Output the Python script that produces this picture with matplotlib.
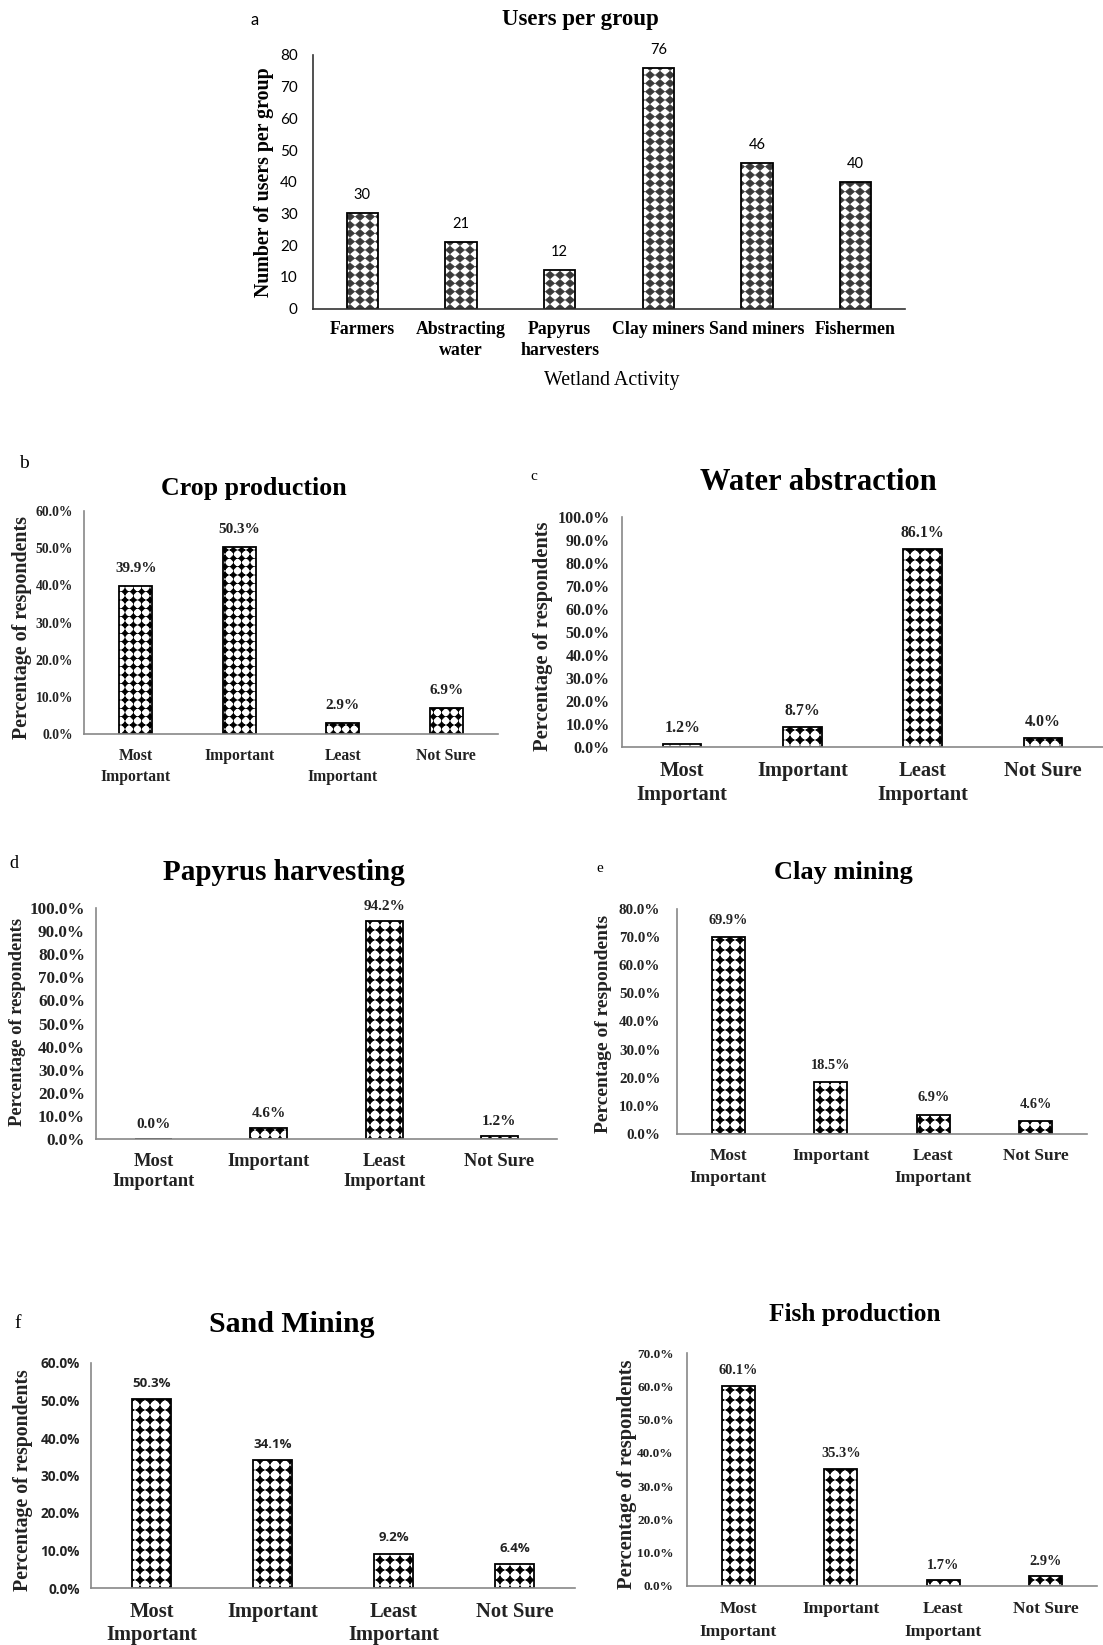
"""Wetland user groups and perceived importance of each activity (panels a-g)."""
import numpy as np
import matplotlib
matplotlib.use("Agg")
import matplotlib.pyplot as plt
from matplotlib import hatch as mhatch
from matplotlib.path import Path

W, H, DPI = 1103, 1645, 100

# ---- data -------------------------------------------------------------
groups = ["Farmers", "Abstracting\nwater", "Papyrus\nharvesters",
          "Clay miners", "Sand miners", "Fishermen"]
users = [30, 21, 12, 76, 46, 40]

levels = ["Most\nImportant", "Important", "Least\nImportant", "Not Sure"]
crop = [39.9, 50.3, 2.9, 6.9]
water = [1.2, 8.7, 86.1, 4.0]
papyrus = [0.0, 4.6, 94.2, 1.2]
clay = [69.9, 18.5, 6.9, 4.6]
sand = [50.3, 34.1, 9.2, 6.4]
fish = [60.1, 35.3, 1.7, 2.9]

SERIF = ["Liberation Serif", "DejaVu Serif"]
SANS = ["Lato", "DejaVu Sans"]
SANS_B = ["Open Sans", "DejaVu Sans"]


# ---- custom hatches (Excel-like fills) ---------------------------------
def diamond(cx, cy, w, h):
    v = [(cx, cy + h), (cx - w, cy), (cx, cy - h), (cx + w, cy), (cx, cy + h)]
    c = [Path.MOVETO, Path.LINETO, Path.LINETO, Path.LINETO, Path.CLOSEPOLY]
    return v, c


class _Pattern(mhatch.HatchPatternBase):
    char = None

    def __init__(self, hatch, density):
        if hatch and self.char in hatch:
            self.verts, self.codes = self.build()
        else:
            self.verts, self.codes = np.empty((0, 2)), np.empty(0, Path.code_type)
        self.num_vertices = len(self.verts)

    def set_vertices_and_codes(self, vertices, codes):
        vertices[:] = self.verts
        codes[:] = self.codes


class SolidDiamond(_Pattern):
    """diamonds touching at their tips (panel a)"""
    char = "*"

    def build(self):
        nx, ny = 10, 12
        w, h = 0.5 / nx * 0.9, 0.5 / ny * 0.9
        v, c = [], []
        for j in range(-1, ny + 2):
            for i in range(-1, nx + 2):
                vv, cc = diamond(i / nx, j / ny, w, h)
                v += vv
                c += cc
        return np.array(v, float), np.array(c, Path.code_type)


class DotGrid(_Pattern):
    """black dots on a thin grid (panels b-g)"""
    n = 10

    def build(self):
        n = self.n
        v, c = [], []
        for k in range(n + 1):
            t = k / n
            v += [(0, t), (1, t), (t, 0), (t, 1)]
            c += [Path.MOVETO, Path.LINETO, Path.MOVETO, Path.LINETO]
        r = 0.36 / n
        for i in range(-1, n + 2):
            for j in range(-1, n + 2):
                vv, cc = diamond(i / n, j / n, r, r)
                v += vv
                c += cc
        return np.array(v, float), np.array(c, Path.code_type)


class DotGridFine(DotGrid):
    char = "O"
    n = 12


class DotGridWide(DotGrid):
    char = "o"
    n = 10


mhatch._hatch_types = [SolidDiamond, DotGridFine, DotGridWide]
plt.rcParams["hatch.linewidth"] = 0.5


def box(l, r, t, b):
    return [l / W, 1 - b / H, (r - l) / W, (b - t) / H]


def ftext(x, y, s, **kw):
    fig.text(x / W, 1 - y / H, s, ha="center", va="center", **kw)


fig = plt.figure(figsize=(W / DPI, H / DPI), dpi=DPI)

# ---- panel a ----------------------------------------------------------
ax = fig.add_axes(box(313, 905, 55, 308.5))
xa = np.arange(len(groups))
ax.bar(xa, users, 0.32, color="white", edgecolor="#3a3a3a", hatch="*", linewidth=0)
ax.bar(xa, users, 0.32, fill=False, edgecolor="black", linewidth=1.3)
for x, v in zip(xa, users):
    ax.annotate(f"{v}", (x, v), xytext=(0, 13), textcoords="offset points",
                ha="center", va="center", fontsize=10.5, family=SANS)
ax.set_xlim(-0.5, len(groups) - 0.5)
ax.set_ylim(0, 80)
ax.set_yticks(range(0, 81, 10))
ax.set_xticks(xa)
ax.set_xticklabels(groups, family=SERIF, weight="bold", fontsize=12.8, linespacing=1.3)
for t in ax.get_yticklabels():
    t.set_family(SANS)
    t.set_fontsize(11)
ax.tick_params(axis="y", length=0, pad=11)
ax.tick_params(axis="x", length=0, pad=9)
for s in ("top", "right"):
    ax.spines[s].set_visible(False)
for s in ("left", "bottom"):
    ax.spines[s].set_color("#333333")
    ax.spines[s].set_linewidth(1.2)
ftext(580, 19, "Users per group", family=SERIF, weight="bold", fontsize=16.5)
ftext(255, 20, "a", family=SANS, fontsize=12)
ftext(264, 182, "Number of users per group", family=SERIF, weight="bold",
      fontsize=14.3, rotation=90)
ftext(612, 380, "Wetland Activity", family=SERIF, fontsize=14.4)

# ---- panels b-g ---------------------------------------------------------
# tick=(size, pad pt, family)  data=(size, offset pt, family)  cat=(size, pad pt, linespacing)
panels = [
    dict(vals=crop, ymax=60, rect=(84, 498, 511, 734), hatch="O",
         title=("Crop production", 254, 488, 18.6), letter=("b", 24, 464, 14),
         ylab=(22, 627, 14.4), tick=(9.8, 8, SERIF), data=(11, 12.5, SERIF),
         cat=(11.3, 10, 1.4)),
    dict(vals=water, ymax=100, rect=(622, 1103, 517, 747), hatch="o",
         title=("Water abstraction", 818, 482, 22), letter=("c", 534, 477, 11),
         ylab=(543, 636, 14.8), tick=(11.5, 9, SERIF), data=(11.4, 11.5, SERIF),
         cat=(14.8, 10, 1.26)),
    dict(vals=papyrus, ymax=100, rect=(96, 557, 908, 1139), hatch="o",
         title=("Papyrus harvesting", 284, 872, 21), letter=("d", 14, 863, 13),
         ylab=(18, 1022, 13.4), tick=(12.3, 8, SERIF), data=(11, 10.5, SERIF),
         cat=(13.3, 10, 1.24)),
    dict(vals=clay, ymax=80, rect=(677, 1087, 909, 1134), hatch="o",
         title=("Clay mining", 843, 872, 19), letter=("e", 600, 868, 11),
         ylab=(604, 1024, 14.0), tick=(10.8, 12, SERIF), data=(10.4, 12, SERIF),
         cat=(12.5, 10, 1.5)),
    dict(vals=sand, ymax=60, rect=(91, 575, 1363, 1588), hatch="o",
         title=("Sand Mining", 292, 1325, 21.5), letter=("f", 18, 1323, 14),
         ylab=(23, 1480, 14.3), tick=(9.8, 8, SANS_B), data=(9.5, 11.3, SANS_B),
         cat=(14.8, 10, 1.22)),
    dict(vals=fish, ymax=70, rect=(687, 1097, 1353, 1586), hatch="o",
         title=("Fish production", 855, 1315, 18.2), letter=None,
         ylab=(627, 1474, 14.8), tick=(9.5, 9.5, SERIF), data=(10.4, 11, SERIF),
         cat=(12.5, 10.5, 1.6)),
]

xb = np.arange(len(levels))
for p in panels:
    ax = fig.add_axes(box(*p["rect"]))
    ax.bar(xb, p["vals"], 0.32, color="white", edgecolor="black",
           hatch=p["hatch"], linewidth=1.3)
    dsize, doff, dfam = p["data"]
    for x, v in zip(xb, p["vals"]):
        ax.annotate(f"{v:.1f}%", (x, v), xytext=(0, doff), textcoords="offset points",
                    ha="center", va="center", fontsize=dsize, family=dfam,
                    weight="bold", color="#222222")
    ax.set_xlim(-0.5, len(levels) - 0.5)
    ax.set_ylim(0, p["ymax"])
    yt = np.arange(0, p["ymax"] + 1, 10)
    ax.set_yticks(yt)
    tsize, tpad, tfam = p["tick"]
    ax.set_yticklabels([f"{v:.1f}%" for v in yt], family=tfam, weight="bold",
                       fontsize=tsize, color="#222222")
    csize, cpad, cls = p["cat"]
    ax.set_xticks(xb)
    ax.set_xticklabels(levels, family=SERIF, weight="bold", fontsize=csize,
                       linespacing=cls, color="#222222")
    ax.tick_params(axis="y", length=0, pad=tpad)
    ax.tick_params(axis="x", length=0, pad=cpad)
    for s in ("top", "right"):
        ax.spines[s].set_visible(False)
    for s in ("left", "bottom"):
        ax.spines[s].set_color("#888888")
        ax.spines[s].set_linewidth(1.2)

    t, tx, ty, ts = p["title"]
    ftext(tx, ty, t, family=SERIF, weight="bold", fontsize=ts)
    if p["letter"]:
        l, lx, ly, ls = p["letter"]
        ftext(lx, ly, l, family=SERIF, fontsize=ls)
    yx, yy, ys = p["ylab"]
    ftext(yx, yy, "Percentage of respondents", family=SERIF, weight="bold",
          fontsize=ys, rotation=90, color="#222222")

fig.savefig("out.png", dpi=DPI)
